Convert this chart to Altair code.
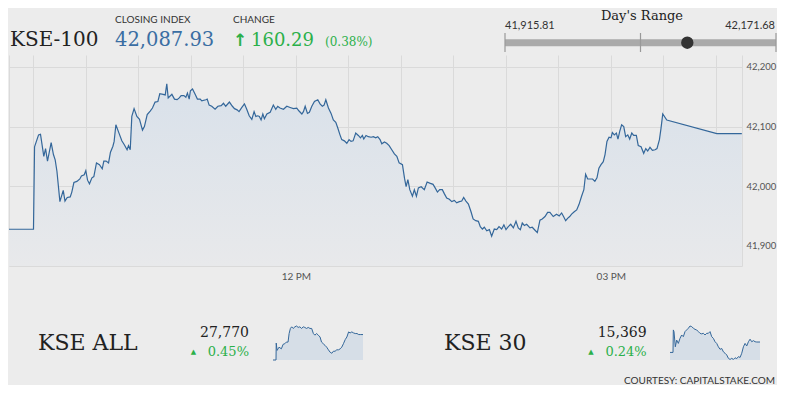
import altair as alt
import pandas as pd

# ---------------- data ----------------
# KSE-100 intraday: clock minutes (e.g. 570 = 09:30) and index values
main_minutes = [556, 570, 570.6, 572.9, 574.0, 575.9, 576.9, 578.0, 580.1, 581.4, 582.4, 583.4, 585.1, 587.0, 588.0,
                589.3, 591.0, 591.9, 593.1, 594.8, 596.5, 597.4, 599.0, 599.9, 600.9, 602.0, 603.4, 604.5, 606.0,
                607.7, 609.3, 610.2, 611.5, 612.9, 614.0, 615.4, 616.1, 617.1, 618.6, 620.5, 622.0, 623.5, 624.3,
                625.3, 626.2, 627.5, 629.1, 630.6, 632.3, 633.4, 635.0, 636.7, 638.0, 639.5, 641.1, 642.2, 644.1,
                645.3, 646.2, 647.0, 649.1, 650.6, 652.1, 653.3, 654.4, 656.0, 657.1, 658.0, 659.0, 659.7, 660.9,
                662.4, 663.7, 665.3, 666.2, 668.5, 669.3, 670.4, 671.9, 673.8, 675.4, 677.3, 678.6, 679.9, 682.0,
                683.7, 684.9, 686.4, 687.5, 689.1, 690.6, 691.9, 693.3, 694.8, 696.1, 697.1, 698.2, 699.1, 700.1,
                701.1, 702.0, 703.4, 705.3, 707.1, 708.5, 709.6, 710.9, 712.9, 714.8, 716.7, 718.6, 720.5, 721.8,
                723.4, 724.3, 725.3, 726.6, 727.7, 729.1, 730.6, 732.5, 733.8, 735.1, 736.1, 737.1, 738.6, 740.1,
                741.4, 742.8, 743.9, 745.2, 746.2, 747.7, 749.1, 750.4, 751.5, 752.7, 754.2, 755.7, 756.9, 758.0,
                758.8, 760.1, 761.4, 763.0, 764.3, 765.6, 766.8, 768.1, 769.1, 770.6, 771.9, 773.3, 774.8, 776.3,
                777.7, 779.0, 780.9, 782.1, 783.0, 784.0, 785.1, 786.6, 787.7, 788.9, 790.0, 791.6, 793.4, 795.0,
                796.5, 798.4, 799.6, 800.9, 802.2, 803.7, 804.9, 806.2, 807.7, 809.1, 810.6, 811.9, 813.4, 814.8,
                815.9, 817.2, 818.6, 820.1, 821.3, 822.8, 824.3, 825.4, 826.6, 827.7, 829.1, 830.6, 831.9, 833.4,
                834.8, 836.1, 837.6, 838.9, 840.1, 841.4, 842.8, 844.3, 845.8, 847.1, 848.3, 849.4, 850.6, 851.9,
                853.8, 855.1, 856.7, 858.0, 859.5, 860.8, 862.4, 863.9, 865.2, 867.1, 869.0, 870.5, 871.9, 873.0,
                874.2, 875.3, 876.5, 877.6, 879.1, 880.5, 881.8, 883.3, 884.6, 885.6, 886.8, 888.3, 889.6, 890.9,
                892.1, 893.2, 894.4, 895.7, 896.7, 897.8, 899.0, 900.1, 900.9, 902.0, 903.2, 904.1, 905.1, 906.2,
                907.4, 908.5, 909.7, 910.8, 912.0, 913.1, 914.6, 915.7, 917.3, 918.8, 920.0, 921.1, 922.4, 923.8,
                925.3, 926.4, 927.8, 928.7, 929.7, 932.0, 960.6, 974.9]
main_values = [41927.64, 41927.64, 42066, 42086, 42087, 42050, 42063, 42042, 42073, 42053, 42044, 42025, 41974, 41993, 41975,
               41981, 41982, 41990, 42006, 42008, 42012, 42017, 42019, 42026, 42010, 42004, 42014, 42016, 42039,
               42036, 42029, 42042, 42042, 42039, 42057, 42067, 42075, 42103, 42091, 42076, 42069, 42061, 42068,
               42061, 42117, 42130, 42117, 42112, 42094, 42100, 42120, 42126, 42131, 42141, 42142, 42155, 42154,
               42153, 42171.68, 42148, 42154, 42146, 42145, 42148, 42152, 42152, 42149, 42156, 42146, 42160, 42163,
               42154, 42146, 42146, 42143, 42145, 42146, 42136, 42134, 42129, 42134, 42135, 42139, 42134, 42141,
               42134, 42130, 42128, 42125, 42132, 42138, 42129, 42118, 42112, 42125, 42117, 42118, 42117, 42111,
               42121, 42113, 42121, 42124, 42136, 42129, 42134, 42131, 42129, 42134, 42132, 42130, 42131, 42126,
               42121, 42125, 42134, 42122, 42124, 42134, 42142, 42145, 42138, 42134, 42136, 42145, 42131, 42122,
               42111, 42107, 42098, 42086, 42078, 42076, 42072, 42078, 42075, 42076, 42089, 42085, 42081, 42085,
               42079, 42085, 42083, 42082, 42083, 42081, 42083, 42078, 42071, 42074, 42072, 42068, 42061, 42054,
               42050, 42039, 42036, 42013, 41999, 42011, 41994, 41983, 41994, 41983, 41997, 41999, 41994, 42007,
               42005, 42003, 41997, 41990, 41994, 41994, 41987, 41980, 41978, 41974, 41976, 41972, 41974, 41975,
               41981, 41975, 41970, 41957, 41945, 41942, 41941, 41932, 41928, 41931, 41925, 41927, 41915.81, 41928,
               41927, 41932, 41928, 41935, 41927, 41932, 41936, 41930, 41941, 41930, 41927, 41938, 41934, 41936,
               41930, 41931, 41926, 41922, 41943, 41945, 41949, 41956, 41956, 41949, 41953, 41950, 41955, 41949,
               41942, 41946, 41949, 41953, 41957, 41960, 41969, 41983, 41994, 42020, 42012, 42012, 42012, 42008,
               42014, 42030, 42036, 42041, 42053, 42075, 42082, 42081, 42090, 42086, 42089, 42079, 42092, 42103,
               42100, 42083, 42086, 42079, 42089, 42085, 42085, 42068, 42066, 42055, 42063, 42059, 42065, 42060,
               42061, 42063, 42078, 42097, 42121, 42111, 42088, 42087.93]

# KSE ALL sparkline
all_minutes = [556, 570, 571, 575, 584, 595, 603, 611, 618, 626, 631, 637, 643, 650, 658, 666, 673, 681, 689, 697,
               704, 712, 720, 728, 736, 744, 751, 759, 767, 775, 782, 790, 798, 806, 814, 822, 830, 837, 845, 853,
               861, 869, 876, 884, 892, 900, 908, 915, 923, 931, 939, 947, 955, 962, 975]
all_values = [27645, 27645, 27728, 27692, 27708, 27700, 27722, 27725, 27733, 27733, 27775, 27800, 27808, 27800, 27808,
              27812, 27805, 27808, 27800, 27808, 27805, 27800, 27805, 27800, 27800, 27775, 27767, 27775, 27767, 27758,
              27733, 27725, 27717, 27708, 27695, 27683, 27678, 27688, 27688, 27695, 27695, 27700, 27708, 27725, 27745,
              27758, 27783, 27778, 27783, 27778, 27775, 27775, 27770, 27770, 27770]
all_domain = [27645, 27812]

# KSE 30 sparkline
k30_minutes = [556, 570, 571.5, 574.6, 580.8, 587, 594.8, 602.6, 610.3, 618.1, 625.9, 633.6, 641.4, 649.2, 656.9,
               664.7, 672.5, 680.2, 688, 695.8, 703.5, 711.3, 719.1, 726.9, 734.6, 742.4, 750.2, 757.9, 765.7,
               773.5, 781.2, 789, 796.8, 804.6, 812.3, 820.1, 827.9, 835.6, 843.4, 851.2, 858.9, 866.7, 874.5,
               882.2, 890, 897.8, 905.5, 913.3, 921.1, 928.8, 936.6, 944.4, 952.1, 959.9, 975]
k30_values = [15332, 15332, 15412, 15406, 15352, 15376, 15364, 15382, 15394, 15388, 15406, 15412, 15418, 15426, 15424,
              15418, 15414, 15412, 15406, 15400, 15398, 15400, 15394, 15400, 15400, 15406, 15388, 15382, 15370,
              15364, 15352, 15343, 15346, 15334, 15329, 15323, 15311, 15307, 15311, 15307, 15313, 15310, 15317,
              15314, 15329, 15352, 15364, 15355, 15370, 15379, 15370, 15374, 15370, 15369, 15369]
k30_domain = [15305, 15426]

# day's range
range_low, range_mid, range_high = 41915.81, 42043.745, 42171.68
close_value = 42087.93

# axes
time_domain = [556, 975]
value_domain = [41866, 42220]
grid_minutes = [556, 570, 600, 630, 660, 690, 720, 750, 780, 810, 840, 870, 900, 930, 960]
grid_values = [41900, 41950, 42000, 42050, 42100, 42150, 42200]

# texts
title_text = "KSE-100"
closing_label = "CLOSING INDEX"
closing_text = "42,087.93"
change_label = "CHANGE"
change_text = "160.29"
change_pct = "(0.38%)"
range_title = "Day's Range"
range_low_text = "41,915.81"
range_high_text = "42,171.68"
sub_names = ["KSE ALL", "KSE 30"]
sub_values = ["27,770", "15,369"]
sub_changes = ["0.45%", "0.24%"]
courtesy = "COURTESY: CAPITALSTAKE.COM"

# ---------------- style ----------------
BG = "#ececec"
GRID = "#dadada"
LINE = "#34679a"
BLUE = "#3a6ea3"
GREEN = "#2bb04a"
DARK = "#222222"
SERIF = "DejaVu Serif"
SANS = "Lato"


def txt(s, x, y, size, color, font, align="left", weight="normal", baseline="alphabetic"):
    return alt.Chart(pd.DataFrame({"s": [s]})).mark_text(
        align=align, baseline=baseline, font=font, fontSize=size, color=color, fontWeight=weight
    ).encode(text="s:N", x=alt.value(x), y=alt.value(y))


# ---------------- main chart ----------------
main_df = pd.DataFrame({"m": main_minutes, "v": main_values})
x_main = alt.X(
    "m:Q",
    scale=alt.Scale(domain=time_domain, nice=False, zero=False),
    axis=alt.Axis(values=grid_minutes, title=None, grid=True, gridColor=GRID, gridWidth=1, ticks=False,
                  domainColor=GRID, labelFont=SANS, labelFontSize=10, labelColor="#555555", labelPadding=5,
                  labelExpr="datum.value == 720 ? '12 PM' : (datum.value == 900 ? '03 PM' : '')"),
)
y_main = alt.Y(
    "v:Q",
    scale=alt.Scale(domain=value_domain, nice=False, zero=False),
    axis=alt.Axis(orient="right", values=grid_values, title=None, grid=True, gridColor=GRID, gridWidth=1,
                  ticks=False, domainColor=GRID, labelFont=SANS, labelFontSize=9.5, labelColor="#555555",
                  labelPadding=4,
                  labelExpr="datum.value % 100 == 0 ? format(datum.value, ',') : ''"),
)
fill = alt.Gradient(gradient="linear",
                    stops=[alt.GradientStop(color="#d9e1ea", offset=0),
                           alt.GradientStop(color="#e8e9eb", offset=1)],
                    x1=1, x2=1, y1=0, y2=1)
main_area = alt.Chart(main_df).mark_area(color=fill).encode(x=x_main, y=y_main, y2=alt.datum(value_domain[0]))
main_line = alt.Chart(main_df).mark_line(color=LINE, strokeWidth=1.2).encode(x="m:Q", y="v:Q")
main_layer = alt.layer(main_area, main_line)


# ---------------- sparklines ----------------
def spark(mins, vals, xr, ydom):
    df = pd.DataFrame({"m": mins, "v": vals})
    xs = alt.X("m:Q", scale=alt.Scale(domain=time_domain, range=xr, nice=False, zero=False), axis=None)
    ys = alt.Y("v:Q", scale=alt.Scale(domain=ydom, range=[305, 271], nice=False, zero=False), axis=None)
    a = alt.Chart(df).mark_area(color="#d6dee7").encode(x=xs, y=ys, y2=alt.datum(ydom[0]))
    l = alt.Chart(df).mark_line(color=LINE, strokeWidth=1).encode(x="m:Q", y="v:Q")
    return alt.layer(a, l)


spark_all = spark(all_minutes, all_values, [264, 354], all_domain)
spark_30 = spark(k30_minutes, k30_values, [661, 751], k30_domain)

# ---------------- day's range ----------------
rscale = alt.Scale(domain=[range_low, range_high], range=[496, 767], nice=False, zero=False)
bar = alt.Chart(pd.DataFrame({"lo": [range_low], "hi": [range_high]})).mark_rule(
    color="#aaaaaa", strokeWidth=7).encode(x=alt.X("lo:Q", scale=rscale, axis=None), x2="hi:Q", y=alt.value(-12.3))
rticks = alt.Chart(pd.DataFrame({"p": [range_low, range_mid, range_high]})).mark_rule(
    color="#999999", strokeWidth=1.2).encode(x=alt.X("p:Q", scale=rscale, axis=None), y=alt.value(-22), y2=alt.value(-3))
dot = alt.Chart(pd.DataFrame({"p": [close_value]})).mark_circle(size=154, color="#333333", opacity=1).encode(
    x=alt.X("p:Q", scale=rscale, axis=None), y=alt.value(-12.3))
range_layer = alt.layer(bar, rticks, dot)

# ---------------- texts ----------------
texts = [
    txt(title_text, 1, -9, 20, DARK, SERIF),
    txt(closing_label, 106, -32, 10, "#333333", SANS),
    txt(closing_text, 106, -9, 19.5, BLUE, SERIF),
    txt(change_label, 224, -32, 10, "#333333", SANS),
    txt("↑", 224, -9, 17, GREEN, "DejaVu Sans", weight="bold"),
    txt(change_text, 242, -9, 18, GREEN, SERIF),
    txt(change_pct, 316, -9, 12, GREEN, SERIF),
    txt(range_title, 633, -35, 13, DARK, SERIF, align="center"),
    txt(range_low_text, 496, -26, 11, "#333333", SANS),
    txt(range_high_text, 766, -26, 11, "#333333", SANS, align="right"),
    txt(sub_names[0], 29, 295, 22, DARK, SERIF),
    txt(sub_values[0], 240, 282, 14, DARK, SERIF, align="right"),
    txt("▲", 184.5, 297, 7, GREEN, "DejaVu Sans", align="center", baseline="middle"),
    txt(sub_changes[0], 240, 301, 13, GREEN, SERIF, align="right"),
    txt(sub_names[1], 435, 295, 22, DARK, SERIF),
    txt(sub_values[1], 637.7, 282, 14, DARK, SERIF, align="right"),
    txt("▲", 582, 297, 7, GREEN, "DejaVu Sans", align="center", baseline="middle"),
    txt(sub_changes[1], 637.7, 301, 13, GREEN, SERIF, align="right"),
    txt(courtesy, 766, 329, 10, "#333333", SANS, align="right"),
]

chart = alt.layer(main_layer, spark_all, spark_30, range_layer, *texts).resolve_scale(
    x="independent", y="independent"
).properties(
    width=733, height=211,
    autosize=alt.AutoSizeParams(type="none"),
    padding={"left": 1, "top": 47, "right": 35, "bottom": 119},
    background=BG,
).configure_view(stroke=None)

chart.save("out.html", embed_options={"renderer": "svg", "actions": False})
